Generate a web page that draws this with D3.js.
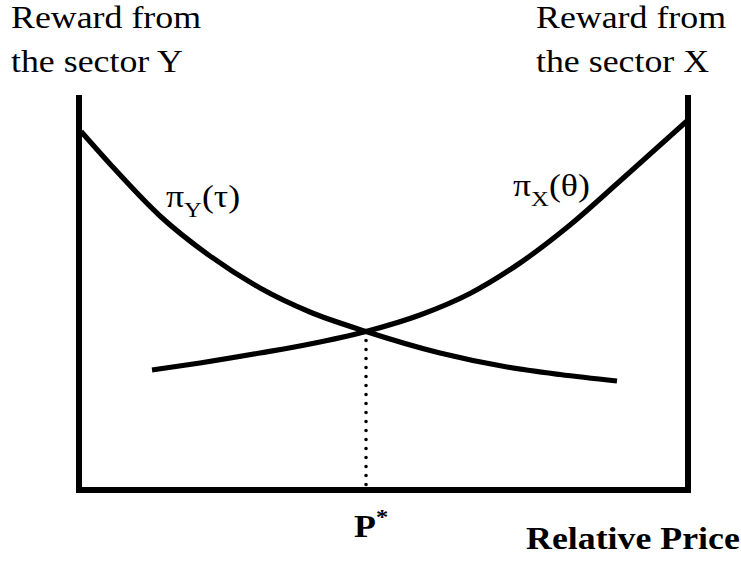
<!DOCTYPE html>
<html>
<head>
<meta charset="utf-8">
<script src="https://cdn.jsdelivr.net/npm/d3@7"></script>
<style>
  html, body { margin: 0; padding: 0; background: #fff; }
  svg { display: block; }
  text { font-family: "Liberation Serif", "Times New Roman", serif; fill: #000; }
</style>
</head>
<body>
<svg id="chart" width="741" height="563"></svg>
<script>
// Relative price (x, 0-100) and reward (y, 0-100)
const piYx = [0.33, 5.09, 13.30, 21.51, 29.72, 37.93, 47.13, 59.28, 70.28, 78.98, 88.34];
const piYy = [90.76, 82.53, 69.37, 59.24, 51.14, 45.06, 40.13, 34.68, 31.14, 29.24, 27.59];
const piXx = [11.99, 19.87, 29.72, 37.93, 47.13, 55.99, 64.20, 72.41, 80.62, 88.83, 100];
const piXy = [30.38, 32.15, 34.68, 36.96, 40.13, 44.30, 49.75, 57.47, 67.09, 78.23, 93.67];
const pStar = [47.13, 40.13];
const leftTitle = ["Reward from", "the sector Y"];
const rightTitle = ["Reward from", "the sector X"];
const xTitle = "Relative Price";

const svg = d3.select("#chart");
const x = d3.scaleLinear().domain([0, 100]).range([79, 688]);
const y = d3.scaleLinear().domain([0, 100]).range([490, 95]);

// Frame: left axis, bottom axis, right axis
svg.append("path")
  .attr("d", `M${x(0)},${y(100)} L${x(0)},${y(0)} L${x(100)},${y(0)} L${x(100)},${y(100)}`)
  .attr("fill", "none").attr("stroke", "#000").attr("stroke-width", 6)
  .attr("stroke-linejoin", "miter");

const line = d3.line().x(d => x(d[0])).y(d => y(d[1])).curve(d3.curveMonotoneX);

svg.append("path")
  .attr("d", line(d3.zip(piYx, piYy)))
  .attr("fill", "none").attr("stroke", "#000").attr("stroke-width", 5.2);
svg.append("path")
  .attr("d", line(d3.zip(piXx, piXy)))
  .attr("fill", "none").attr("stroke", "#000").attr("stroke-width", 5.2);

// Dotted drop line
svg.append("line")
  .attr("x1", x(pStar[0])).attr("x2", x(pStar[0]))
  .attr("y1", y(pStar[1]) + 9).attr("y2", y(0))
  .attr("stroke", "#000").attr("stroke-width", 3.6)
  .attr("stroke-dasharray", "0 9").attr("stroke-linecap", "round");

const SX = 1.12;
function label(px, py, opts) {
  const t = svg.append("text")
    .attr("transform", `translate(${px},${py}) scale(${SX},1)`)
    .attr("font-size", opts.size || 32)
    .attr("font-weight", opts.bold ? "bold" : "normal");
  return t;
}

label(11, 28, {}).text(leftTitle[0]);
label(11, 72, {}).text(leftTitle[1]);
label(536, 28, {}).text(rightTitle[0]);
label(536, 72, {}).text(rightTitle[1]);

// π_Y(τ)
const ty = label(166, 207, {});
ty.append("tspan").text("π");
ty.append("tspan").attr("font-size", 22).attr("dy", 10).text("Y");
ty.append("tspan").attr("dy", -10).text("(τ)");

// π_X(θ)
const tx = label(513, 196, {});
tx.append("tspan").text("π");
tx.append("tspan").attr("font-size", 22).attr("dy", 10).text("X");
tx.append("tspan").attr("dy", -10).text("(θ)");

// P*
const tp = label(354, 537, { bold: true });
tp.append("tspan").text("P");
tp.append("tspan").attr("font-size", 22).attr("dy", -13).text("*");

label(526, 549, { bold: true }).text(xTitle);
</script>
</body>
</html>
